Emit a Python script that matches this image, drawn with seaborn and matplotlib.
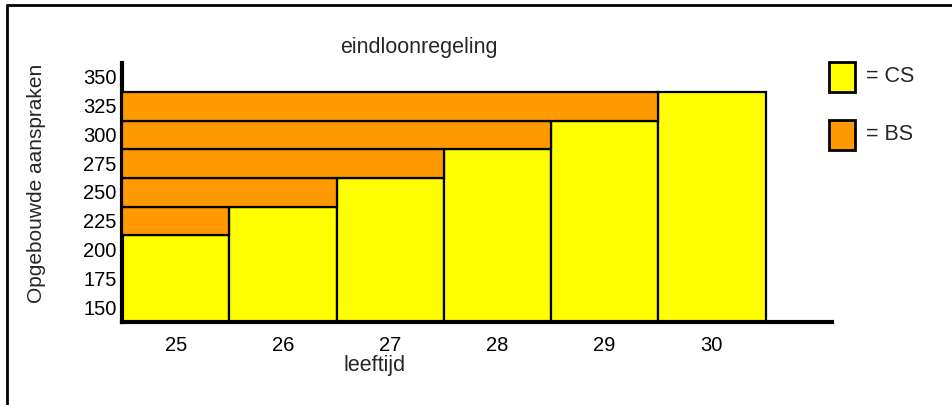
import matplotlib
matplotlib.use('Agg')
import matplotlib.pyplot as plt
import seaborn as sns
import pandas as pd
from matplotlib.patches import Rectangle
from matplotlib.lines import Line2D

# data
ages = [25, 26, 27, 28, 29, 30]
cs = [213, 237, 262, 287, 312, 337]   # opgebouwde aanspraken CS
y_ticks = [150, 175, 200, 225, 250, 275, 300, 325, 350]

yellow = '#ffff00'
orange = '#ff9900'

sns.set_theme(style='white')
plt.rcParams['font.family'] = ['Liberation Sans', 'DejaVu Sans']

fig = plt.figure(figsize=(9.52, 4.05), dpi=100)
ax = fig.add_axes([122 / 952, 83 / 405, 710 / 952, 259 / 405])

df = pd.DataFrame({'leeftijd': ages, 'CS': cs})
sns.barplot(data=df, x='leeftijd', y='CS', color=yellow, saturation=1,
            width=1.0, edgecolor='black', linewidth=1.6, ax=ax, zorder=2)

# BS: horizontal bands between successive CS levels
for k in range(len(cs) - 1):
    ax.barh(cs[k], width=k + 1, height=cs[k + 1] - cs[k], left=-0.5,
            align='edge', color=orange, edgecolor='black', linewidth=1.6, zorder=3)

ax.set_xlim(-0.5, 6.12)
ax.set_ylim(137, 362)
ax.set_yticks(y_ticks)
ax.set_yticklabels([str(v) for v in y_ticks], fontsize=14.5)
ax.set_xticks(range(len(ages)))
ax.set_xticklabels([str(a) for a in ages], fontsize=14.5)
ax.tick_params(axis='both', length=0, colors='black')
ax.tick_params(axis='y', pad=4)
ax.tick_params(axis='x', pad=10)
ax.set_xlabel('')
ax.set_ylabel('')

sns.despine(ax=ax)
for s in ['left', 'bottom']:
    ax.spines[s].set_color('black')
    ax.spines[s].set_linewidth(3)

fig.text(419 / 952, 1 - 48 / 405, 'eindloonregeling', ha='center', va='center', fontsize=15.5)
fig.text(375 / 952, 1 - 366 / 405, 'leeftijd', ha='center', va='center', fontsize=15.5)
fig.text(37 / 952, 1 - 183 / 405, 'Opgebouwde aanspraken', ha='center', va='center',
         rotation=90, fontsize=15)

# legend
for y0, col, lab in [(62, yellow, '= CS'), (120, orange, '= BS')]:
    fig.patches.append(Rectangle((829 / 952, 1 - (y0 + 30) / 405), 26 / 952, 30 / 405,
                                 transform=fig.transFigure, facecolor=col,
                                 edgecolor='black', linewidth=2))
    fig.text(866 / 952, 1 - (y0 + 15) / 405, lab, ha='left', va='center', fontsize=15.5)

# frame lines (left and top)
fig.lines.append(Line2D([7 / 952, 7 / 952], [0, 1 - 5 / 405], transform=fig.transFigure,
                        color='black', linewidth=2))
fig.lines.append(Line2D([7 / 952, 1], [1 - 5 / 405, 1 - 5 / 405], transform=fig.transFigure,
                        color='black', linewidth=2))

fig.savefig('out.png', dpi=100, facecolor='white')
